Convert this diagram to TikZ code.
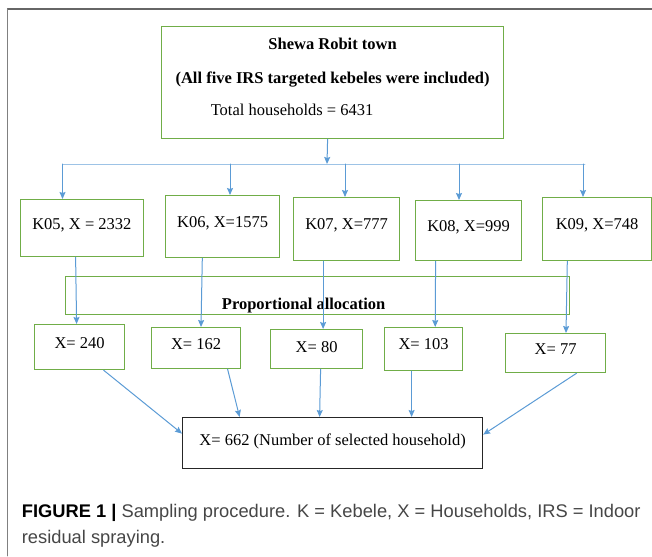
\documentclass[tikz,border=0pt]{standalone}
\usepackage{fontspec}
\setmainfont{Liberation Serif}
\newfontfamily\capfont{Liberation Sans}
\usetikzlibrary{arrows.meta}
\usetikzlibrary{calc}
\definecolor{boxgreen}{RGB}{112,173,71}
\definecolor{arrblue}{RGB}{91,155,213}
\definecolor{lineblue}{RGB}{157,195,230}
\definecolor{capgray}{RGB}{70,70,70}

\begin{document}
\begin{tikzpicture}[x=1pt, y=-1pt, line cap=round,
    kbox/.style={draw=boxgreen, line width=1.2pt, inner xsep=0pt, inner ysep=0pt, anchor=north west, font=\fontsize{16.5}{19.8}\selectfont},
    arr/.style={draw=arrblue, line width=1pt, -{Stealth[length=7pt, width=6pt, inset=1pt]}}]
    % sampling procedure flow chart
    \useasboundingbox (0,0) rectangle (652,556);
    \draw[gray!80!black, line width=1.2pt] (7.5,9) -- (652,9);
    \draw[gray, line width=0.9pt] (7.5,9) -- (7.5,556);

    \node[kbox, minimum width=342pt, minimum height=112pt, align=center] (town) at (161,26)
        {\textbf{Shewa Robit town}\\[14pt]
         \textbf{(All five IRS targeted kebeles were included)}\\[12pt]
         Total households = 6431\hspace*{81pt}\rule[-11.5pt]{0pt}{11.5pt}};

    \coordinate (hub) at (327,164);
    \coordinate (d1) at (62.5,164);
    \coordinate (d2) at (230,164);
    \coordinate (d3) at (345,164);
    \coordinate (d4) at (459,164);
    \coordinate (d5) at (583,164);
    \coordinate (dr) at (585,164);

    % kebeles
    \node[kbox, minimum width=123.4pt, text height=29.5pt, text depth=27.5pt] (k05) at (19.6,199) {K05, X = 2332};
    \node[kbox, minimum width=114pt, text height=31.5pt, text depth=30.5pt] (k06) at (165,195) {K06, X=1575};
    \node[kbox, minimum width=106pt, text height=31.5pt, text depth=31.5pt] (k07) at (293,197) {K07, X=777};
    \node[kbox, minimum width=106pt, text height=30.5pt, text depth=29.5pt] (k08) at (415,200) {K08, X=999};
    \node[kbox, minimum width=109pt, text height=31.5pt, text depth=31.5pt] (k09) at (542,197) {K09, X=748};

    \node[kbox, minimum width=504pt, text height=32.5pt, text depth=5.5pt] (prop) at (65,276)
        {\textbf{Proportional allocation}\hspace*{28pt}};

    % allocated samples
    \node[kbox, minimum width=90pt, text height=23.5pt, text depth=21.5pt] (x240) at (34,324) {X= 240};
    \node[kbox, minimum width=89pt, text height=21.5pt, text depth=19.5pt] (x162) at (151,327) {X= 162};
    \node[kbox, minimum width=92pt, text height=22.5pt, text depth=16.5pt] (x80) at (270,329) {X= 80};
    \node[kbox, minimum width=78pt, text height=21.5pt, text depth=21.5pt] (x103) at (384,327) {X= 103};
    \node[kbox, minimum width=100pt, text height=20.5pt, text depth=18.5pt] (x77) at (505,333) {X= 77};

    \node[kbox, draw=black!85, minimum width=300pt, text height=27.5pt, text depth=23.5pt] (total) at (182,417)
        {X= 662 (Number of selected household)};

    \draw[arr] ([xshift=-5pt]town.south) -- (hub);
    \draw[lineblue, line width=0.9pt] (d1) -- (dr);
    \draw[arr] (d1) -- (d1 |- k05.north);
    \draw[arr] (d2) -- (d2 |- k06.north);
    \draw[arr] (d3) -- (d3 |- k07.north);
    \draw[arr] (d4) -- (d4 |- k08.north);
    \draw[arr] (d5) -- (d5 |- k09.north);

    \draw[arr] ([xshift=-6.3pt]k05.south) -- ([xshift=-3pt]x240.north);
    \draw[arr] ([xshift=-20.3pt]k06.south) -- ([xshift=4.9pt]x162.north);
    \draw[arr] ([xshift=-23.5pt]k07.south) -- ([xshift=6.5pt]x80.north);
    \draw[arr] ([xshift=-33pt]k08.south) -- ([xshift=11.6pt]x103.north);
    \draw[arr] ([xshift=-29.8pt]k09.south) -- ([xshift=10.4pt]x77.north);

    \draw[arr] ([xshift=24pt]x240.south) -- ([yshift=9.5pt]total.west);
    \draw[arr] ([xshift=31.5pt]x162.south) -- ([xshift=-93pt]total.north);
    \draw[arr] ([xshift=4pt]x80.south) -- ([xshift=-13pt]total.north);
    \draw[arr] ([xshift=-12pt]x103.south) -- ([xshift=79pt]total.north);
    \draw[arr] ([xshift=21pt]x77.south) -- ([yshift=8.5pt]total.east);

    % caption: base anchor sits on the last line
    \node[anchor=base west, align=left, inner sep=0pt, font=\capfont\fontsize{18.3}{26}\selectfont] (caption) at (21.7,543)
        {\textbf{FIGURE 1 |} {\color{capgray}Sampling procedure. K = Kebele, X = Households, IRS = Indoor}\\
         \color{capgray}residual spraying.};
\end{tikzpicture}
\end{document}
